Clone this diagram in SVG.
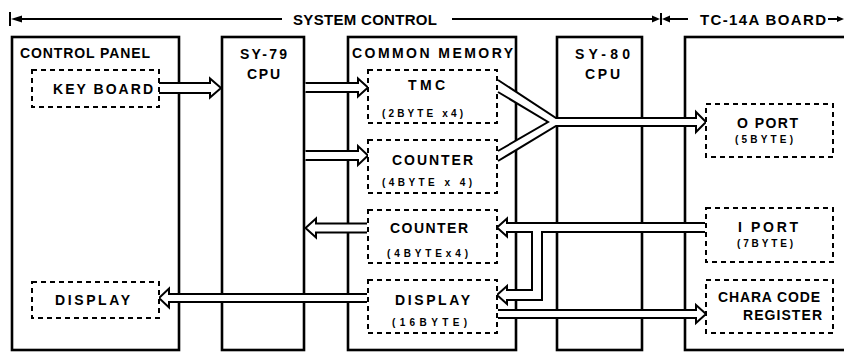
<svg xmlns="http://www.w3.org/2000/svg" width="844" height="352" viewBox="0 0 844 352">
<style>
.bg{fill:#fff}
.box{fill:none;stroke:#000;stroke-width:2.6}
.dash{fill:#fff;stroke:#000;stroke-width:2;stroke-dasharray:5 4}
.arr{fill:#fff;stroke:#000;stroke-width:2;stroke-linejoin:miter}
.fillw{fill:#fff;stroke:none}
.ln{fill:none;stroke:#000;stroke-width:2}
.t{font-family:"Liberation Sans",Arial,sans-serif;font-weight:bold;font-size:14px;fill:#000}
.s{font-family:"Liberation Sans",Arial,sans-serif;font-weight:bold;font-size:10px;fill:#000}
.h{font-family:"Liberation Sans",Arial,sans-serif;font-weight:bold;font-size:15px;fill:#000}
</style>
<rect class="bg" x="0" y="0" width="844" height="352"/>

<g id="header">
  <line class="ln" x1="10" y1="12" x2="10" y2="26" stroke-width="1.5"/>
  <path d="M11,19 L22,15.5 L22,22.5 Z" fill="#000"/>
  <line class="ln" x1="20" y1="19" x2="282" y2="19" stroke-width="1.6"/>
  <text class="h" x="293" y="25" textLength="144" lengthAdjust="spacing">SYSTEM CONTROL</text>
  <line class="ln" x1="452" y1="19" x2="653" y2="19" stroke-width="1.6"/>
  <path d="M660,19 L652,15.5 L652,22.5 Z" fill="#000"/>
  <line class="ln" x1="661" y1="13" x2="661" y2="25" stroke-width="1.5"/>
  <path d="M662,19 L670,15.5 L670,22.5 Z" fill="#000"/>
  <line class="ln" x1="669" y1="19" x2="688" y2="19" stroke-width="1.6"/>
  <text class="h" x="700" y="25" textLength="126" lengthAdjust="spacing">TC-14A BOARD</text>
  <line class="ln" x1="828" y1="19" x2="838" y2="19" stroke-width="1.6"/>
  <path d="M844,19 L837,16 L837,22 Z" fill="#000"/>
</g>

<g id="control-panel">
  <rect class="box" x="12" y="37" width="167" height="313"/>
  <text class="t" x="20" y="58" textLength="130" lengthAdjust="spacing">CONTROL PANEL</text>
</g>
<g id="sy79-cpu">
  <rect class="box" x="222" y="37" width="82" height="313"/>
  <text class="t" x="240" y="59" textLength="47" lengthAdjust="spacing">SY-79</text>
  <text class="t" x="247" y="79" textLength="33" lengthAdjust="spacing">CPU</text>
</g>
<g id="common-memory">
  <rect class="box" x="348" y="37" width="168" height="313"/>
  <text class="t" x="352" y="58" textLength="161" lengthAdjust="spacing">COMMON MEMORY</text>
</g>
<g id="sy80-cpu">
  <rect class="box" x="557" y="37" width="85" height="313"/>
  <text class="t" x="575" y="59" textLength="55" lengthAdjust="spacing">SY-80</text>
  <text class="t" x="585" y="79" textLength="35" lengthAdjust="spacing">CPU</text>
</g>
<g id="tc14a-board">
  <rect class="box" x="685" y="37" width="170" height="313"/>
</g>

<g id="connectors">
  <!-- KEY BOARD -> SY-79 -->
  <path class="arr" d="M159,83 L210,83 L210,78.5 L221,88 L210,97.5 L210,93 L159,93"/>
  <!-- SY-79 -> TMC -->
  <path class="arr" d="M305.5,83 L358,83 L358,78.5 L368,87.5 L358,96.5 L358,92 L305.5,92"/>
  <!-- SY-79 -> COUNTER -->
  <path class="arr" d="M305.5,151 L358,151 L358,146 L368,155.5 L358,165 L358,160 L305.5,160"/>
  <!-- TMC + COUNTER -> O PORT -->
  <path class="fillw" d="M498,80 L556,118 L696,118 L696,112 L706,122 L696,132 L696,126 L556,126 L498,161 L498,151 L548,122 L498,92 Z"/>
  <path class="ln" d="M498,80 L556,118 L696,118 L696,112 L706,122 L696,132 L696,126 L556,126 L498,161"/>
  <path class="ln" d="M498,92 L548,122 L498,151"/>
  <!-- COUNTER -> SY-79 -->
  <path class="arr" d="M367,223.5 L316,223.5 L316,218.5 L305.5,228 L316,237.5 L316,232.5 L367,232.5"/>
  <!-- I PORT -> COUNTER and DISPLAY -->
  <path class="arr" d="M705,223 L507,223 L507,218.5 L497,227.5 L507,236.5 L507,232 L532,232 L532,290 L507,290 L507,286 L497,295 L507,304 L507,300 L542,300 L542,232 L705,232"/>
  <!-- DISPLAY -> DISPLAY (control panel) -->
  <path class="arr" d="M367,294 L169,294 L169,288.5 L159,298 L169,307.5 L169,302 L367,302"/>
  <!-- DISPLAY -> CHARA CODE REGISTER -->
  <path class="arr" d="M498,310 L696,310 L696,305 L706,314 L696,323 L696,318 L498,318"/>
</g>

<g id="keyboard">
  <rect class="dash" x="32" y="70" width="127" height="37"/>
  <text class="t" x="53" y="94" textLength="100" lengthAdjust="spacing">KEY BOARD</text>
</g>
<g id="display-panel">
  <rect class="dash" x="32" y="282" width="127" height="36"/>
  <text class="t" x="55" y="305" textLength="75" lengthAdjust="spacing">DISPLAY</text>
</g>
<g id="tmc">
  <rect class="dash" x="368" y="70" width="129" height="53"/>
  <text class="t" x="408" y="90" textLength="37" lengthAdjust="spacing">TMC</text>
  <text class="s" x="382" y="117" textLength="81" lengthAdjust="spacing">(2BYTE x4)</text>
</g>
<g id="counter-1">
  <rect class="dash" x="368" y="140" width="129" height="53"/>
  <text class="t" x="392" y="165" textLength="81" lengthAdjust="spacing">COUNTER</text>
  <text class="s" x="382" y="186" textLength="90" lengthAdjust="spacing">(4BYTE x 4)</text>
</g>
<g id="counter-2">
  <rect class="dash" x="368" y="210" width="129" height="53"/>
  <text class="t" x="390" y="233" textLength="78" lengthAdjust="spacing">COUNTER</text>
  <text class="s" x="387" y="257" textLength="81" lengthAdjust="spacing">(4BYTEx4)</text>
</g>
<g id="display-memory">
  <rect class="dash" x="368" y="280" width="129" height="53"/>
  <text class="t" x="395" y="305" textLength="75" lengthAdjust="spacing">DISPLAY</text>
  <text class="s" x="392" y="326" textLength="75" lengthAdjust="spacing">(16BYTE)</text>
</g>
<g id="o-port">
  <rect class="dash" x="706" y="104" width="127" height="53"/>
  <text class="t" x="737" y="128" textLength="61" lengthAdjust="spacing">O PORT</text>
  <text class="s" x="735" y="143" textLength="58" lengthAdjust="spacing">(5BYTE)</text>
</g>
<g id="i-port">
  <rect class="dash" x="706" y="208" width="127" height="54"/>
  <text class="t" x="738" y="232" textLength="60" lengthAdjust="spacing">I PORT</text>
  <text class="s" x="737" y="247" textLength="56" lengthAdjust="spacing">(7BYTE)</text>
</g>
<g id="chara-code-register">
  <rect class="dash" x="706" y="280" width="127" height="53"/>
  <text class="t" x="718" y="302" textLength="102" lengthAdjust="spacing">CHARA CODE</text>
  <text class="t" x="743" y="320" textLength="79" lengthAdjust="spacing">REGISTER</text>
</g>
</svg>
